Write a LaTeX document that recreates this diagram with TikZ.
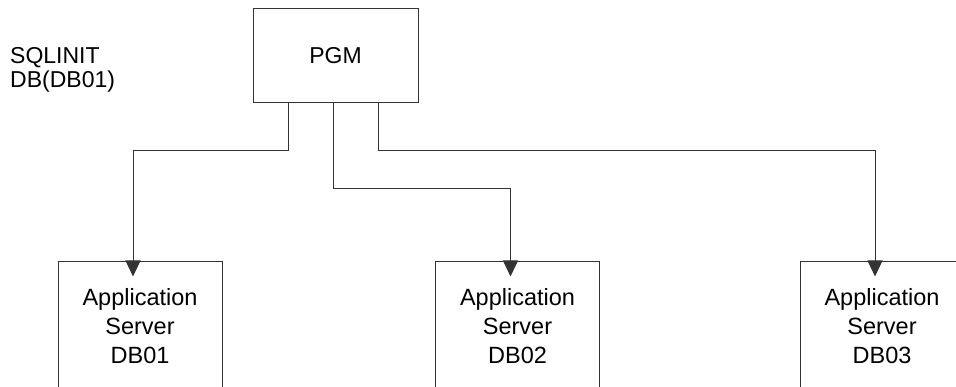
\documentclass[tikz,border=0pt]{standalone}
\usepackage{fontspec}
\setmainfont{Liberation Sans}
\usetikzlibrary{arrows.meta,calc,positioning}

\begin{document}
\begin{tikzpicture}[x=1pt,y=-1pt,>={Triangle[length=16pt,width=15pt]},
  every node/.style={font=\fontsize{23}{24}\selectfont},
  box/.style={draw=black!80,line width=1pt,minimum width=164pt,align=center},
  server/.style={box,minimum height=128pt,font=\fontsize{23.5}{29}\selectfont},
  link/.style={draw=black!80,line width=1pt}]
  \useasboundingbox (0,0) rectangle (956,387);
  \clip (0,0) rectangle (956,387);
  % program and its note
  \node[box,minimum width=165pt,minimum height=94pt] (pgm) at (335.5,56) {PGM};
  \node[align=left,inner sep=0pt,anchor=base west] (init) at (10,88) {SQLINIT\\DB(DB01)};
  % servers, open at the bottom edge
  \node[server] (db01) at (140,326) {Application\\Server\\DB01};
  \node[server] (db02) at (517.5,326) {Application\\Server\\DB02};
  \node[server] (db03) at (882,326) {Application\\Server\\DB03};
  % connectors
  \draw[link,->] ([xshift=-47.5pt]pgm.south) -- ++(0,47) -| ([xshift=-7pt,yshift=-15pt]db01.north);
  \draw[link,->] ([xshift=-2.5pt]pgm.south) -- ++(0,85) -| ([xshift=-7pt,yshift=-15pt]db02.north);
  \draw[link,->] ([xshift=42.5pt]pgm.south) -- ++(0,47) -| ([xshift=-7pt,yshift=-15pt]db03.north);
\end{tikzpicture}
\end{document}
